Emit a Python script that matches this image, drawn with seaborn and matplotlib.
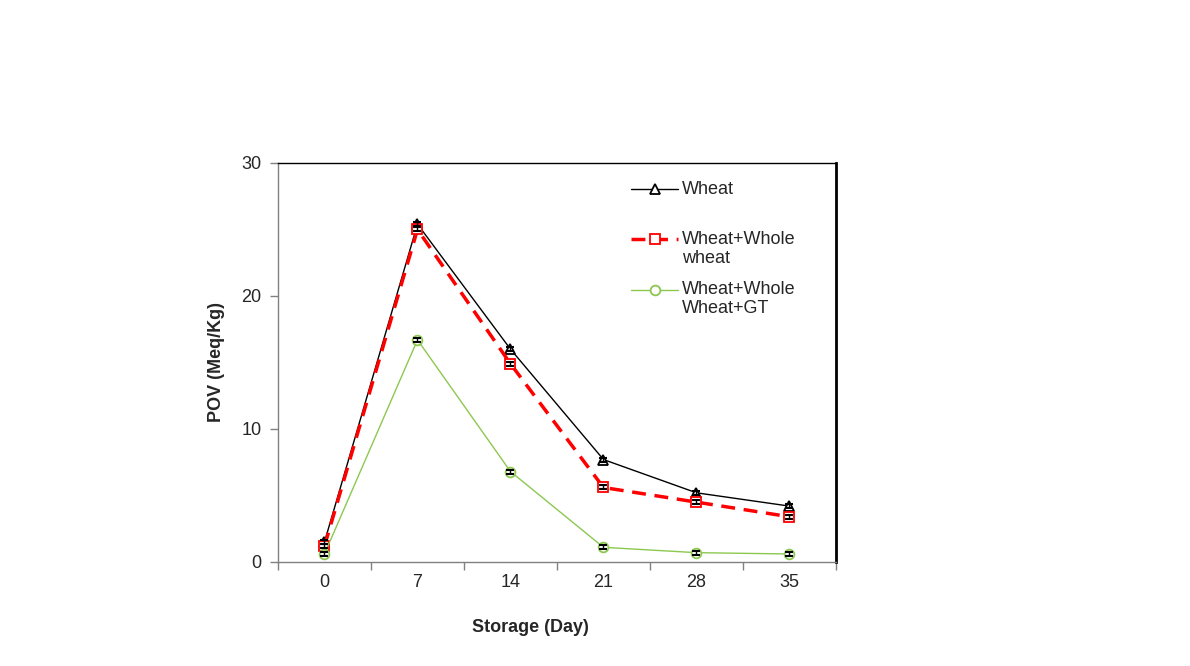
import matplotlib
matplotlib.use("Agg")
import matplotlib.pyplot as plt
import seaborn as sns
import pandas as pd
import numpy as np
from matplotlib.legend_handler import HandlerLine2D

days = ["0", "7", "14", "21", "28", "35"]
wheat = [1.5, 25.4, 16.0, 7.7, 5.2, 4.2]
wheat_whole = [1.2, 25.0, 14.9, 5.6, 4.5, 3.4]
wheat_whole_gt = [0.6, 16.7, 6.8, 1.1, 0.7, 0.6]
err = [0.15, 0.15, 0.15, 0.15, 0.15, 0.15]
series_names = ["Wheat", "Wheat+Whole\nwheat", "Wheat+Whole\nWheat+GT"]

sns.set_style("white")
plt.rcParams['font.family'] = ['Liberation Sans', 'DejaVu Sans']

fig = plt.figure(figsize=(11.9, 6.66), dpi=100)
ax = fig.add_axes([0.2336, 0.1562, 0.7025 - 0.2336, 0.7553 - 0.1562])

pos = np.arange(len(days))
df = pd.DataFrame({
    "pos": np.tile(pos, 3),
    "val": wheat + wheat_whole + wheat_whole_gt,
    "series": np.repeat(series_names, len(days)),
})

styles = {
    series_names[0]: dict(color="black", linestyle="-", lw=1.0, marker="^"),
    series_names[1]: dict(color="#ff0000", linestyle=(0, (4, 2.5)), lw=2.5, marker="s"),
    series_names[2]: dict(color="#8cc850", linestyle="-", lw=1.0, marker="o"),
}
for name in series_names:
    st = styles[name]
    sub = df[df["series"] == name]
    sns.lineplot(data=sub, x="pos", y="val", ax=ax, color=st["color"],
                 linestyle=st["linestyle"], linewidth=st["lw"], marker=st["marker"],
                 markersize=7, markerfacecolor="white", markeredgecolor=st["color"],
                 markeredgewidth=1.3, label=name)
    ax.errorbar(sub["pos"], sub["val"], yerr=err, fmt="none", ecolor="black",
                elinewidth=1, capsize=3, capthick=1.5, zorder=5)

ax.set_xlim(-0.5, len(days) - 0.5)
ax.set_ylim(0, 30)
ax.set_xticks(pos)
ax.set_xticklabels(days)
ax.set_xticks(np.arange(-0.5, len(days)), minor=True)
ax.tick_params(axis="x", which="major", length=0, pad=9, labelsize=13)
ax.tick_params(axis="x", which="minor", length=6, width=1, color="#808080", direction="out", bottom=True)
ax.set_yticks([0, 10, 20, 30])
ax.tick_params(axis="y", length=6, width=1, color="#808080", direction="out", left=True, labelsize=13, pad=6)

for s in ["left", "bottom"]:
    ax.spines[s].set_color("#808080")
    ax.spines[s].set_linewidth(1)
ax.spines["top"].set_color("black")
ax.spines["top"].set_linewidth(1)
ax.spines["right"].set_color("black")
ax.spines["right"].set_linewidth(2)

ax.set_xlabel("Storage (Day)", fontsize=13, fontweight="bold", labelpad=20)
ax.xaxis.label.set_x(0.453)
ax.set_ylabel("POV (Meq/Kg)", fontsize=13, fontweight="bold", labelpad=12)


class UpHandler(HandlerLine2D):
    def __init__(self, shift, **kw):
        super().__init__(**kw)
        self.shift = shift

    def create_artists(self, legend, orig_handle, xdescent, ydescent, width, height, fontsize, trans):
        return super().create_artists(legend, orig_handle, xdescent, ydescent - self.shift,
                                      width, height, fontsize, trans)


handles, labels = ax.get_legend_handles_labels()
labels2 = [l if "\n" in l else l + "\n " for l in labels]
leg = ax.legend(handles, labels2, loc="upper left", bbox_to_anchor=(0.604, 0.995), frameon=False,
                fontsize=13, handlelength=2.6, labelspacing=0.82, handletextpad=0.2,
                handler_map={h: UpHandler(shift=14) for h in handles})
for t in leg.get_texts():
    t.set_linespacing(1.1)

fig.savefig("out.png", dpi=100)
